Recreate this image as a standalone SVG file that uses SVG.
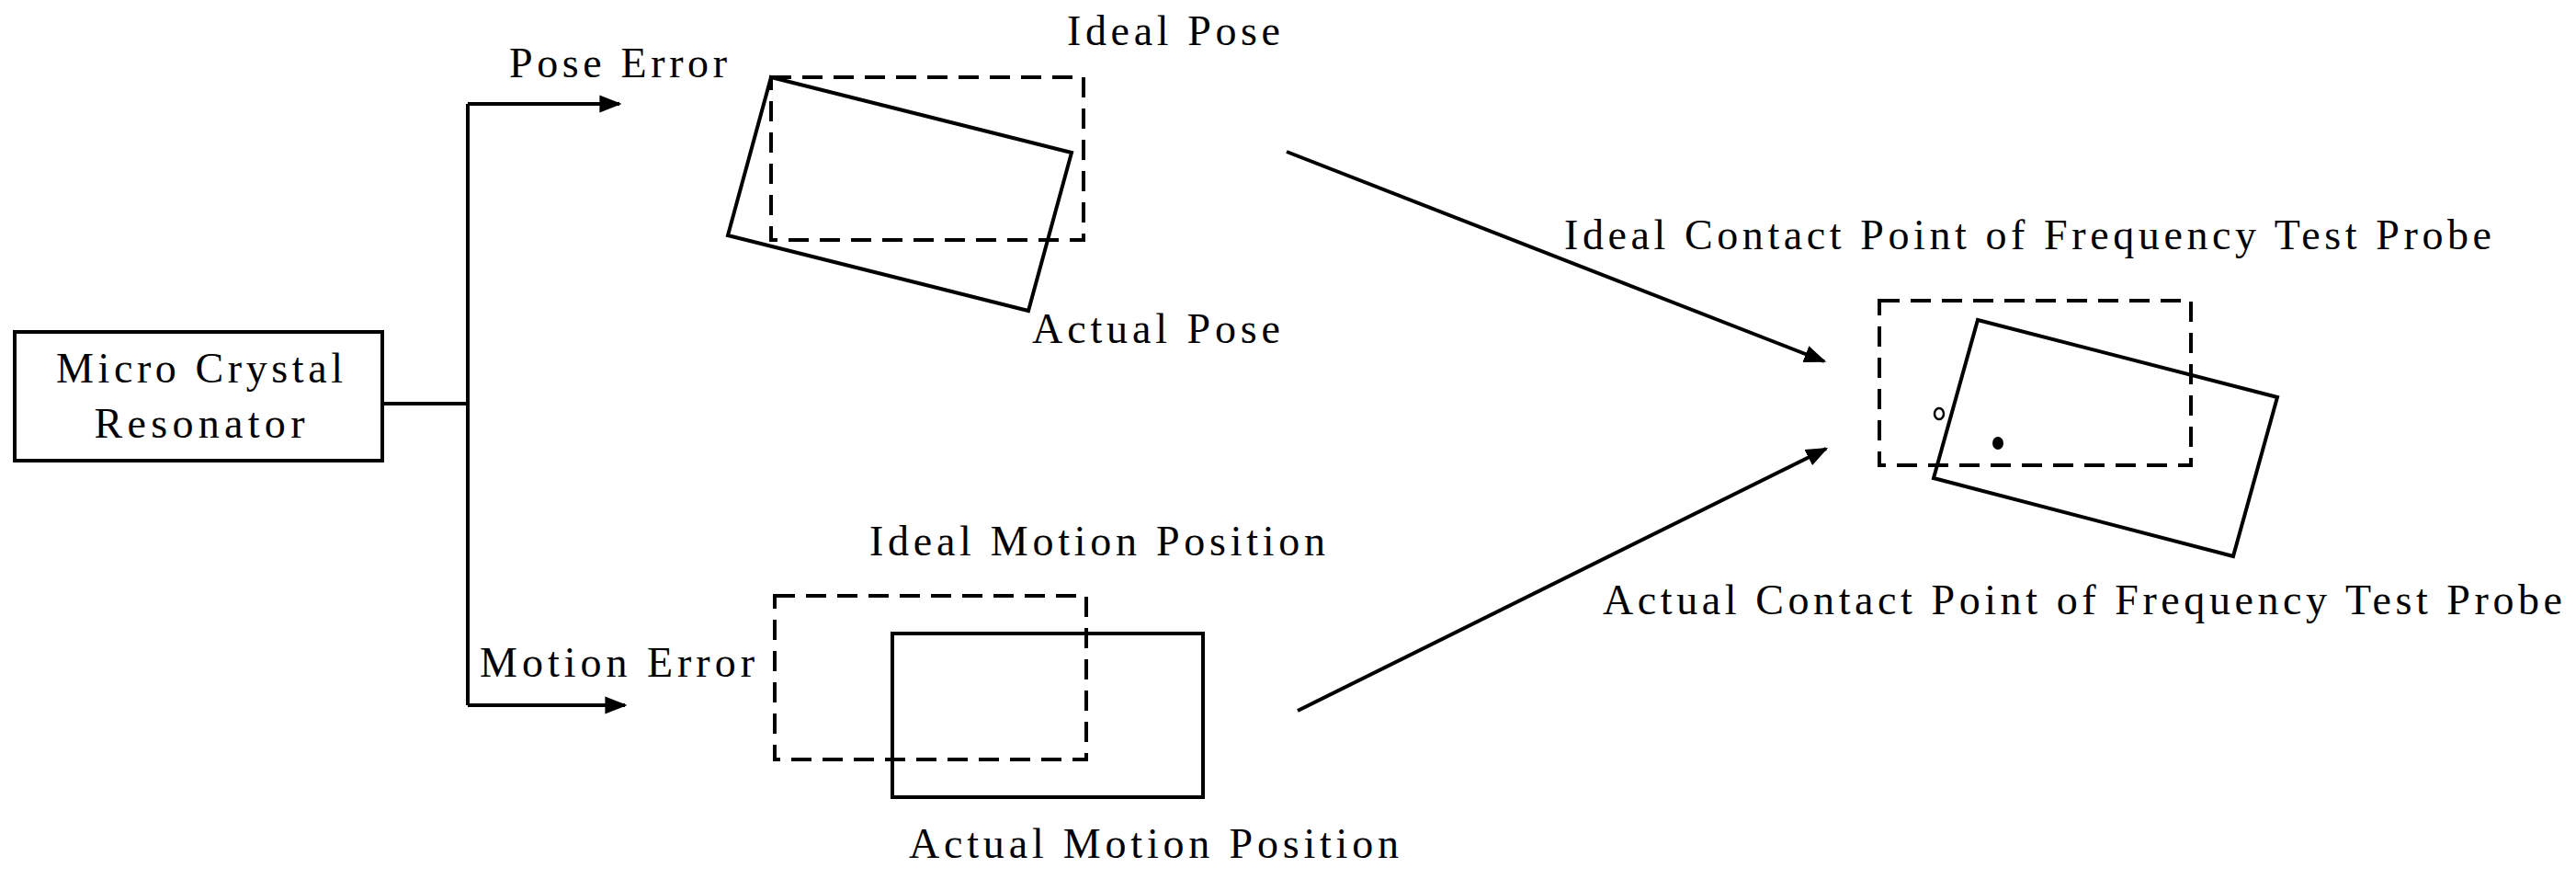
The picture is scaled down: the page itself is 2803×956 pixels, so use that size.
<svg xmlns="http://www.w3.org/2000/svg" width="2803" height="956" viewBox="0 0 2803 956">
<defs>
<style>
.s{fill:none;stroke:#000;stroke-width:4}
.d{fill:none;stroke:#000;stroke-width:4;stroke-dasharray:22 12}
text{font-family:"Liberation Serif",serif;font-size:46px;fill:#000}
</style>
<marker id="a" viewBox="0 0 10 10" refX="9" refY="5" markerWidth="6" markerHeight="6" orient="auto" markerUnits="strokeWidth"><path d="M0,1 L10,5 L0,9 z" fill="#000"/></marker>
</defs>
<rect width="2803" height="956" fill="#fff"/>
<g id="resonator">
<rect class="s" x="16" y="361" width="400" height="140"/>
<text x="217" y="416" text-anchor="middle" textLength="312">Micro Crystal</text>
<text x="217" y="476" text-anchor="middle" textLength="229">Resonator</text>
</g>
<g id="connectors">
<path class="s" d="M416,439 H509 M509,113 V767"/>
<path class="s" d="M509,113 H674" marker-end="url(#a)"/>
<path class="s" d="M509,767 H680" marker-end="url(#a)"/>
<path class="s" d="M1400,165 L1985,393" marker-end="url(#a)"/>
<path class="s" d="M1412,773 L1987,488" marker-end="url(#a)"/>
</g>
<g id="pose">
<text x="554" y="84" textLength="237">Pose Error</text>
<text x="1161" y="49" textLength="232">Ideal Pose</text>
<rect class="d" x="839" y="84" width="340" height="177"/>
<polygon class="s" points="839,84 1166,166 1119,338 792,256"/>
<text x="1123" y="373" textLength="270">Actual Pose</text>
</g>
<g id="motion">
<text x="946" y="604" textLength="496">Ideal Motion Position</text>
<rect class="d" x="843" y="648" width="339" height="178"/>
<rect class="s" x="971" y="689" width="338" height="178"/>
<text x="522" y="736" textLength="299">Motion Error</text>
<text x="989" y="933" textLength="533">Actual Motion Position</text>
</g>
<g id="contact">
<text x="1702" y="271" textLength="1009">Ideal Contact Point of Frequency Test Probe</text>
<rect class="d" x="2045" y="327" width="339" height="179"/>
<polygon class="s" points="2152,348 2478,432 2430,605 2104,520"/>
<ellipse cx="2110" cy="450" rx="5" ry="6" fill="#fff" stroke="#000" stroke-width="2.5"/>
<ellipse cx="2174" cy="482" rx="6" ry="7" fill="#000"/>
<text x="1744" y="668" textLength="1044">Actual Contact Point of Frequency Test Probe</text>
</g>
</svg>
